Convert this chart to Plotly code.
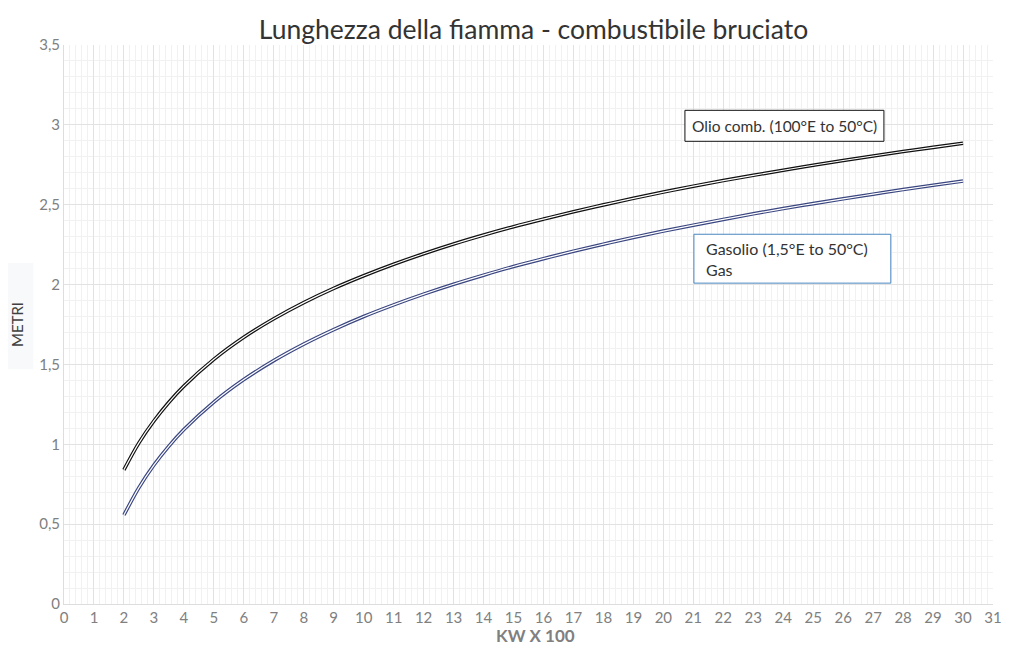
import plotly.graph_objects as go

kw = [2, 2.5, 3, 3.5, 4, 5, 6, 7, 8, 9, 10, 11, 12, 13, 14, 15, 16, 17, 18, 19, 20,
      21, 22, 23, 24, 25, 26, 27, 28, 29, 30]
olio = [0.840, 1.009, 1.146, 1.263, 1.364, 1.532, 1.670, 1.786, 1.887, 1.976, 2.055, 2.127,
        2.193, 2.254, 2.310, 2.362, 2.410, 2.456, 2.499, 2.540, 2.579, 2.616, 2.651, 2.684,
        2.716, 2.747, 2.777, 2.805, 2.833, 2.859, 2.885]
gasolio = [0.557, 0.729, 0.870, 0.989, 1.092, 1.264, 1.405, 1.524, 1.627, 1.718, 1.800, 1.873,
           1.940, 2.002, 2.059, 2.113, 2.162, 2.209, 2.253, 2.295, 2.335, 2.372, 2.408, 2.443,
           2.476, 2.507, 2.537, 2.566, 2.595, 2.622, 2.648]

label_olio = "Olio comb. (100°E to 50°C)"
label_gasolio = "Gasolio (1,5°E to 50°C)<br>Gas"

FONT = "Lato"
fig = go.Figure()

for ys, outer in [(olio, "#111111"), (gasolio, "#3a4680")]:
    fig.add_trace(go.Scatter(x=kw, y=ys, mode="lines", line=dict(color=outer, width=3.6, shape="spline"),
                             hoverinfo="skip", showlegend=False))
    fig.add_trace(go.Scatter(x=kw, y=ys, mode="lines", line=dict(color="white", width=1.2, shape="spline"),
                             showlegend=False))

# label boxes
fig.add_shape(type="rect", xref="x", yref="y", x0=20.72, x1=27.36, y0=2.897, y1=3.091,
              fillcolor="white", line=dict(color="#111111", width=1), layer="above")
fig.add_shape(type="rect", xref="x", yref="y", x0=21.02, x1=27.59, y0=2.009, y1=2.315,
              fillcolor="white", line=dict(color="#4a86c0", width=1), layer="above")

fig.add_annotation(x=20.88, y=2.994, xref="x", yref="y", text=label_olio, showarrow=False,
                   xanchor="left", yanchor="middle", font=dict(family=FONT, size=15.5, color="#333333"))
fig.add_annotation(x=21.37, y=2.162, xref="x", yref="y", text=label_gasolio, showarrow=False,
                   xanchor="left", yanchor="middle", align="left",
                   font=dict(family=FONT, size=16, color="#333333"))

fig.add_annotation(x=0.508, y=-0.057, xref="paper", yref="paper", text="<b>KW X 100</b>",
                   showarrow=False, xanchor="center", yanchor="middle",
                   font=dict(family=FONT, size=17, color="#808080"))

fig.add_shape(type="rect", xref="paper", yref="paper", x0=-0.069, x1=-0.033, y0=0.42, y1=0.61,
              fillcolor="#f8f9fa", line=dict(width=0), layer="below")

fig.update_layout(
    width=1001, height=639,
    margin=dict(l=56, r=16, t=37, b=43),
    paper_bgcolor="white", plot_bgcolor="white",
    separators=",.",
    font=dict(family=FONT, color="#808080"),
    title=dict(text="Lunghezza della fiamma - combustibile bruciato", x=0.525, xanchor="center",
               y=0.966, yanchor="middle", font=dict(family=FONT, size=26.5, color="#333333")),
    xaxis=dict(range=[0, 31], dtick=1, tick0=0, showgrid=True, gridcolor="#e2e2e2", gridwidth=1,
               minor=dict(dtick=0.2, showgrid=True, gridcolor="#f1f1f1"), automargin=False,
               showline=True, linecolor="#dddddd", linewidth=1, zeroline=False, ticks="",
               tickfont=dict(family=FONT, size=15, color="#808080")),
    yaxis=dict(range=[0, 3.5], dtick=0.5, tick0=0, showgrid=True, gridcolor="#e2e2e2", gridwidth=1,
               minor=dict(dtick=0.1, showgrid=True, gridcolor="#f1f1f1"), automargin=False,
               showline=True, linecolor="#dddddd", linewidth=1, zeroline=False, ticks="",
               tickfont=dict(family=FONT, size=15, color="#808080"),
               title=dict(text="METRI", standoff=14, font=dict(family=FONT, size=15, color="#404040"))),
)

fig.write_html("out.html")
